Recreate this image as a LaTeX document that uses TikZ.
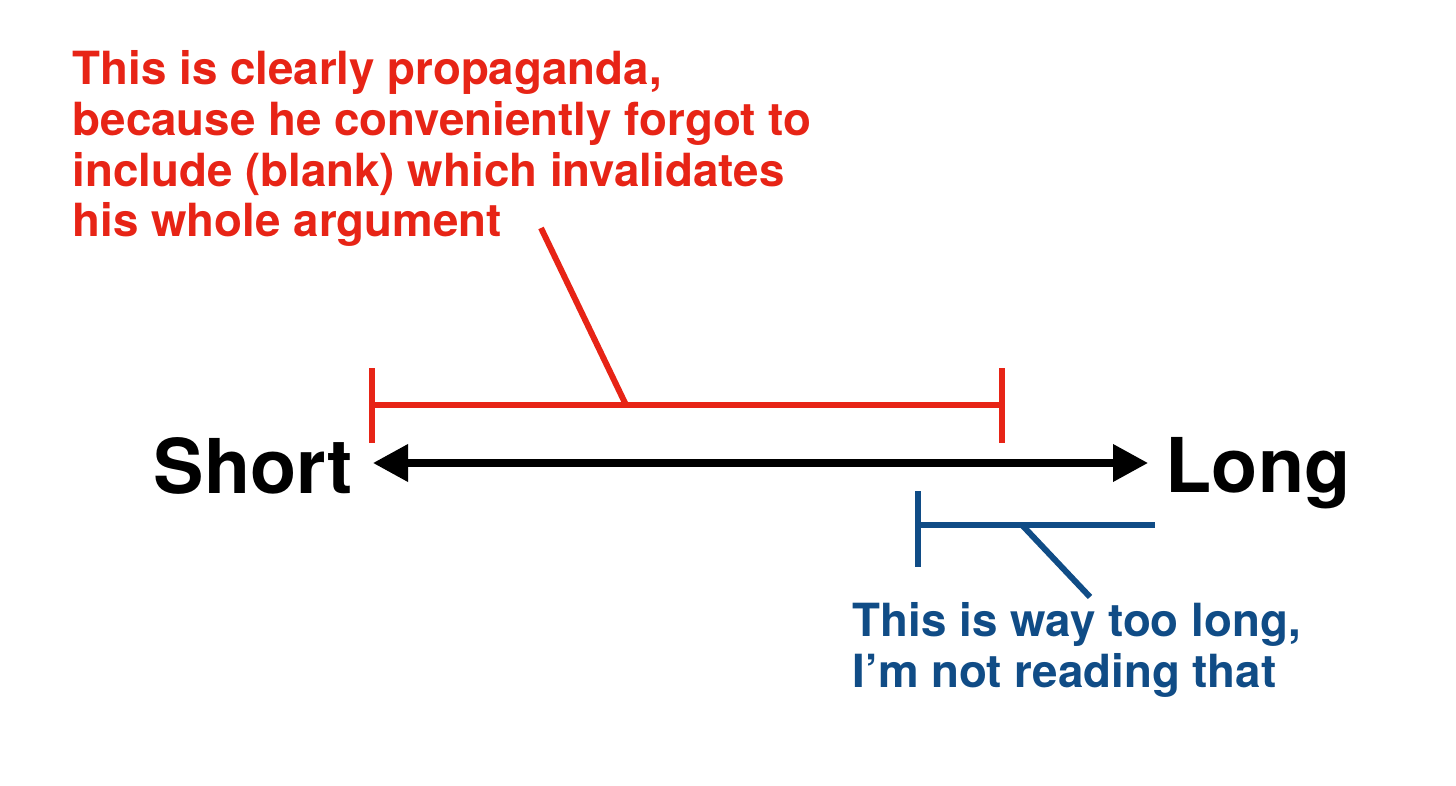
\documentclass[tikz,border=0pt]{standalone}
\usepackage{fontspec}
\setmainfont{TeX Gyre Heros}
\usetikzlibrary{arrows.meta}
\definecolor{myred}{RGB}{231,36,22}
\definecolor{myblue}{RGB}{16,76,134}

\begin{document}
\begin{tikzpicture}[
    redbar/.style={myred,line width=1.7pt},
    bluebar/.style={myblue,line width=1.7pt},
    axisarrow/.style={line width=2pt,{Triangle[length=3.5mm,width=3.6mm]}-{Triangle[length=3.5mm,width=3.6mm]}},
    remark/.style={align=left,inner sep=0pt,font=\bfseries\fontsize{13}{14.5}\selectfont},
    endword/.style={inner sep=0pt,font=\bfseries\fontsize{21.5}{24}\selectfont}]
    \useasboundingbox (0,0) rectangle (14.56,7.85);
    % the scale
    \node[endword,anchor=base west] (short) at (1.53,2.92) {Short};
    \node[endword,anchor=base west] (long) at (11.65,2.93) {Long};
    \coordinate (axisL) at (3.73,3.22);
    \coordinate (axisR) at (11.48,3.22);
    \draw[axisarrow] (axisL) -- (axisR);

    % red bracket with its remark
    \node[remark,myred,anchor=base west] (propaganda) at (0.72,5.48) {This is clearly propaganda,\\because he conveniently forgot to\\include (blank) which invalidates\\his whole argument};
    \coordinate (redLtop) at (3.72,4.17);
    \coordinate (redLbot) at (3.72,3.42);
    \coordinate (redRtop) at (10.02,4.17);
    \coordinate (redRbot) at (10.02,3.42);
    \coordinate (redLmid) at (3.72,3.80);
    \coordinate (redRmid) at (10.02,3.80);
    \coordinate (redfoot) at (6.26,3.80);
    \coordinate (redhead) at (5.41,5.57);
    \draw[redbar] (redLtop) -- (redLbot) (redRtop) -- (redRbot) (redLmid) -- (redRmid);
    \draw[redbar] (redhead) -- (redfoot);

    % blue bracket with its remark
    \node[remark,myblue,anchor=base west] (toolong) at (8.52,0.98) {This is way too long,\\I’m not reading that};
    \coordinate (blueTop) at (9.18,2.94);
    \coordinate (blueBot) at (9.18,2.18);
    \coordinate (blueMid) at (9.18,2.60);
    \coordinate (blueEnd) at (11.55,2.60);
    \coordinate (bluefoot) at (10.22,2.60);
    \coordinate (bluehead) at (10.90,1.88);
    \draw[bluebar] (blueTop) -- (blueBot) (blueMid) -- (blueEnd);
    \draw[bluebar] (bluefoot) -- (bluehead);
\end{tikzpicture}
\end{document}
